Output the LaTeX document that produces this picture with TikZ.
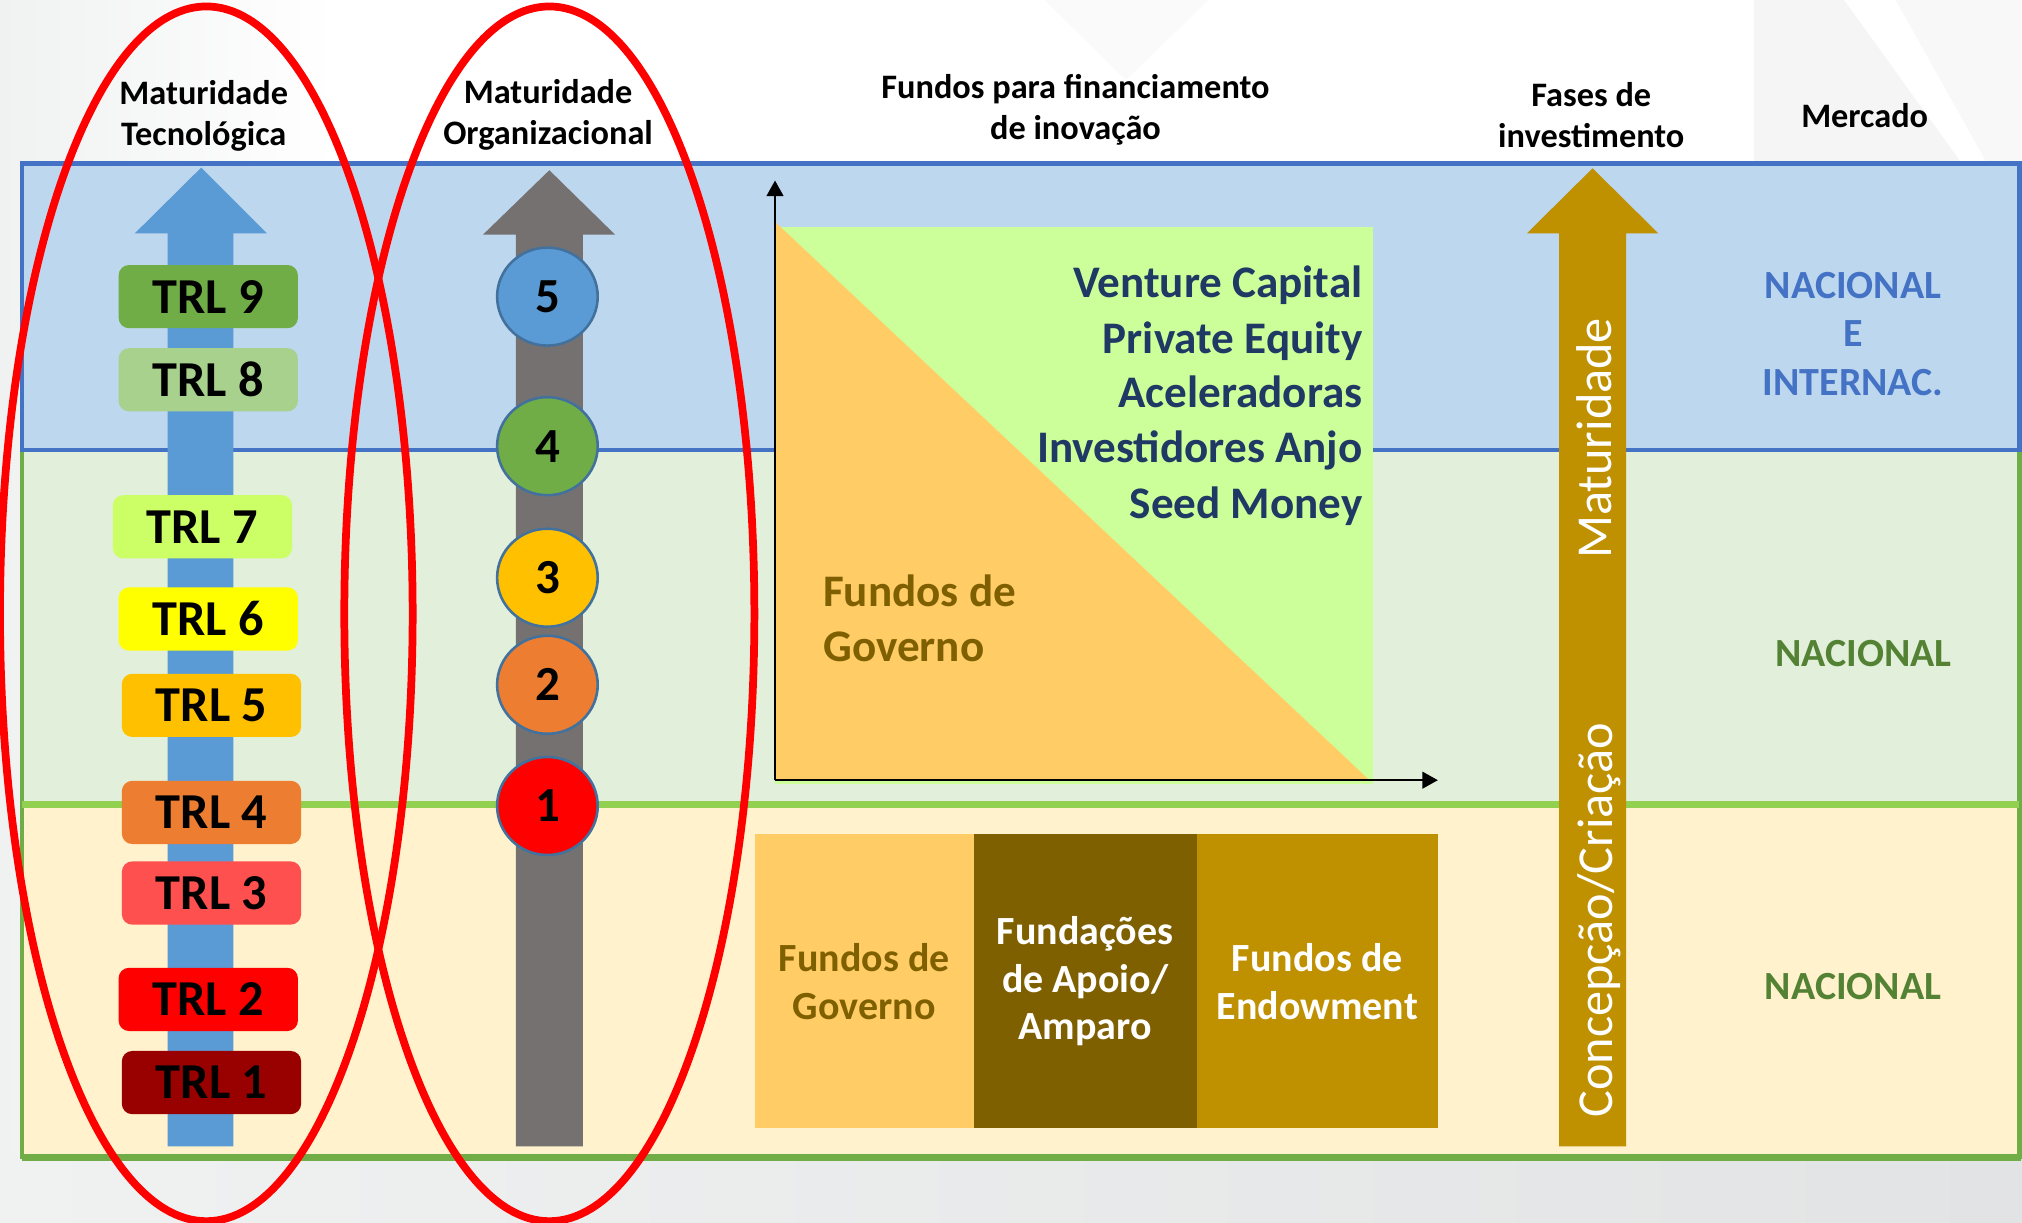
\documentclass[tikz,border=0pt]{standalone}
\usepackage{fontspec}
\setmainfont{Carlito}
\usetikzlibrary{arrows.meta,shapes.geometric}
\definecolor{bandblue}{HTML}{BDD7EE}
\definecolor{bandblueline}{HTML}{4472C4}
\definecolor{bandgreen}{HTML}{E2EFDA}
\definecolor{bandgreenline}{HTML}{70AD47}
\definecolor{midline}{HTML}{92D050}
\definecolor{bandyellow}{HTML}{FFF2CC}
\definecolor{arrblue}{HTML}{5B9BD5}
\definecolor{arrgray}{HTML}{767171}
\definecolor{arrgold}{HTML}{BF9000}
\definecolor{circborder}{HTML}{41719C}
\definecolor{chartgreen}{HTML}{CCFF99}
\definecolor{chartorange}{HTML}{FFCC66}
\definecolor{navy}{HTML}{1F3864}
\definecolor{olive}{HTML}{7F6000}
\definecolor{mktblue}{HTML}{4472C4}
\definecolor{mktgreen}{HTML}{548235}
\definecolor{trlnine}{HTML}{70AD47}
\definecolor{trleight}{HTML}{A9D18E}
\definecolor{trlseven}{HTML}{CCFF66}
\definecolor{trlsix}{HTML}{FFFF00}
\definecolor{trlfive}{HTML}{FFC000}
\definecolor{trlfour}{HTML}{ED7D31}
\definecolor{trlthree}{HTML}{FF5050}
\definecolor{trltwo}{HTML}{FF0000}
\definecolor{trlone}{HTML}{990000}
\definecolor{bgfaint}{HTML}{F0F1F1}
\definecolor{bgdark}{HTML}{E2E3E4}
\tikzset{
  trlbox/.style={rounded corners=4pt, minimum width=69.5pt, minimum height=24.5pt, inner sep=0pt, font=\fontsize{19.5}{23}\selectfont\bfseries},
  lvl/.style={ellipse, draw=circborder, line width=1pt, minimum width=39pt, minimum height=38pt, inner sep=0pt, font=\fontsize{19}{23}\selectfont\bfseries},
  header/.style={align=center, font=\fontsize{13.3}{16}\selectfont\bfseries},
  fundtxt/.style={inner sep=0pt, font=\fontsize{17.5}{21.5}\selectfont\bfseries},
  fundbox/.style={minimum height=114pt, inner sep=0pt, outer sep=0pt, align=center, font=\fontsize{15.5}{18.5}\selectfont\bfseries},
  mkt/.style={align=center, font=\fontsize{15.5}{18.75}\selectfont\bfseries},
  phase/.style={rotate=90, text=white, inner sep=0pt, font=\fontsize{19.5}{23}\selectfont},
  ring/.style={draw=red, line width=3pt},
  axis/.style={draw=black, line width=0.7pt, -{Triangle[length=6pt,width=6.5pt]}},
}
\begin{document}
\begin{tikzpicture}[x=0.5pt,y=-0.5pt]
\useasboundingbox (0,0) rectangle (1568,948);
% background
\fill[white] (0,0) rectangle (1568,948);
\shade[left color=bgfaint, right color=white] (0,0) rectangle (260,948);
\shade[left color=bgfaint, right color=bgdark] (0,897) rectangle (1568,948);
\fill[bgfaint!70] (1360,0) -- (1430,0) -- (1520,125) -- (1360,125) -- cycle;
\fill[bgfaint!50] (1470,0) -- (1568,0) -- (1568,125) -- (1540,125) -- cycle;
\fill[bgfaint!35] (810,0) -- (937,0) -- (873,62) -- cycle;
% bands
\filldraw[fill=bandyellow, draw=bandgreenline, line width=1.6pt] (17,624) rectangle (1566,897);
\draw[bandgreenline, line width=2.7pt] (17,897.5) -- (1567,897.5);
\filldraw[fill=bandgreen, draw=bandgreenline, line width=1.8pt] (17,349) rectangle (1566,624);
\draw[midline, line width=2.5pt] (17,624) -- (1566,624);
\filldraw[fill=bandblue, draw=bandblueline, line width=1.8pt] (17,127) rectangle (1566,349);
% headers
\node[header] (hTec) at (158,90) {Maturidade\\Tecnológica};
\node[header] (hOrg) at (425,89) {Maturidade\\Organizacional};
\node[header] (hFund) at (834,85) {Fundos para financiamento\\de inovação};
\node[header] (hFase) at (1234,89) {Fases de\\investimento};
\node[header] (hMerc) at (1446,90) {Mercado};
% arrows
\fill[arrblue] (130,889) -- (130,181) -- (104.5,181) -- (156,130) -- (207,181) -- (181,181) -- (181,889) -- cycle;
\fill[arrgray] (400,889) -- (400,182) -- (374.5,182) -- (426,132) -- (477,182) -- (452,182) -- (452,889) -- cycle;
\fill[arrgold] (1209,889) -- (1209,181) -- (1184,181) -- (1235,130.5) -- (1286,181) -- (1261,181) -- (1261,889) -- cycle;
% TRL boxes
\node[trlbox, fill=trlnine]  (t9) at (161.5,230) {TRL 9};
\node[trlbox, fill=trleight] (t8) at (161.5,294.5) {TRL 8};
\node[trlbox, fill=trlseven] (t7) at (157,408.5) {TRL 7};
\node[trlbox, fill=trlsix]   (t6) at (161.5,480) {TRL 6};
\node[trlbox, fill=trlfive]  (t5) at (164,547) {TRL 5};
\node[trlbox, fill=trlfour]  (t4) at (164,630) {TRL 4};
\node[trlbox, fill=trlthree] (t3) at (164,692.5) {TRL 3};
\node[trlbox, fill=trltwo]   (t2) at (161.5,775) {TRL 2};
\node[trlbox, fill=trlone]   (t1) at (164,839.5) {TRL 1};
% level circles
\node[lvl, fill=arrblue]  (c5) at (424.5,230) {5};
\node[lvl, fill=trlnine]  (c4) at (424.5,346) {4};
\node[lvl, fill=trlfive]  (c3) at (424.5,448) {3};
\node[lvl, fill=trlfour]  (c2) at (424.5,531) {2};
\node[lvl, fill=trltwo]   (c1) at (424.5,625) {1};
% chart
\fill[chartgreen] (601,176) rectangle (1065,608);
\fill[chartorange] (601,172) -- (601,605) -- (1062,605) -- cycle;
\coordinate (org) at (601,605);
\coordinate (ytip) at (601,140);
\coordinate (xtip) at (1115,605);
\draw[axis] (org) -- (ytip);
\draw[axis] (org) -- (xtip);
\node[fundtxt, text=navy, anchor=base east] (vc) at (1057,231) {Venture Capital};
\node[fundtxt, text=navy, anchor=base east] (pe) at (1057,274) {Private Equity};
\node[fundtxt, text=navy, anchor=base east] (ac) at (1057,316) {Aceleradoras};
\node[fundtxt, text=navy, anchor=base east] (ia) at (1057,359) {Investidores Anjo};
\node[fundtxt, text=navy, anchor=base east] (sm) at (1057,402) {Seed Money};
\node[fundtxt, text=olive, anchor=base west] (fg1) at (638,470) {Fundos de};
\node[fundtxt, text=olive, anchor=base west] (fg2) at (638,513) {Governo};
% bottom boxes
\node[fundbox, fill=chartorange, text=olive, minimum width=84.75pt] (b1) at (670.25,761) {Fundos de\\Governo};
\node[fundbox, fill=olive, text=white, minimum width=86.5pt] (b2) at (841.5,761) {Fundações\\de Apoio/\\Amparo};
\node[fundbox, fill=arrgold, text=white, minimum width=93.5pt] (b3) at (1021.5,761) {Fundos de\\Endowment};
% phase texts
\node[phase] (ph1) at (1240,713.5) {Concepção/Criação};
\node[phase] (ph2) at (1236,340) {Maturidade};
% market
\node[mkt, text=mktblue] (m1) at (1437,259) {NACIONAL\\E\\INTERNAC.};
\node[mkt, text=mktgreen] (m2) at (1445,507) {NACIONAL};
\node[mkt, text=mktgreen] (m3) at (1437,765) {NACIONAL};
% red rings
\draw[ring] (160,476) ellipse [x radius=80pt, y radius=235.5pt];
\draw[ring] (426,476) ellipse [x radius=79.5pt, y radius=235.5pt];
\end{tikzpicture}
\end{document}
